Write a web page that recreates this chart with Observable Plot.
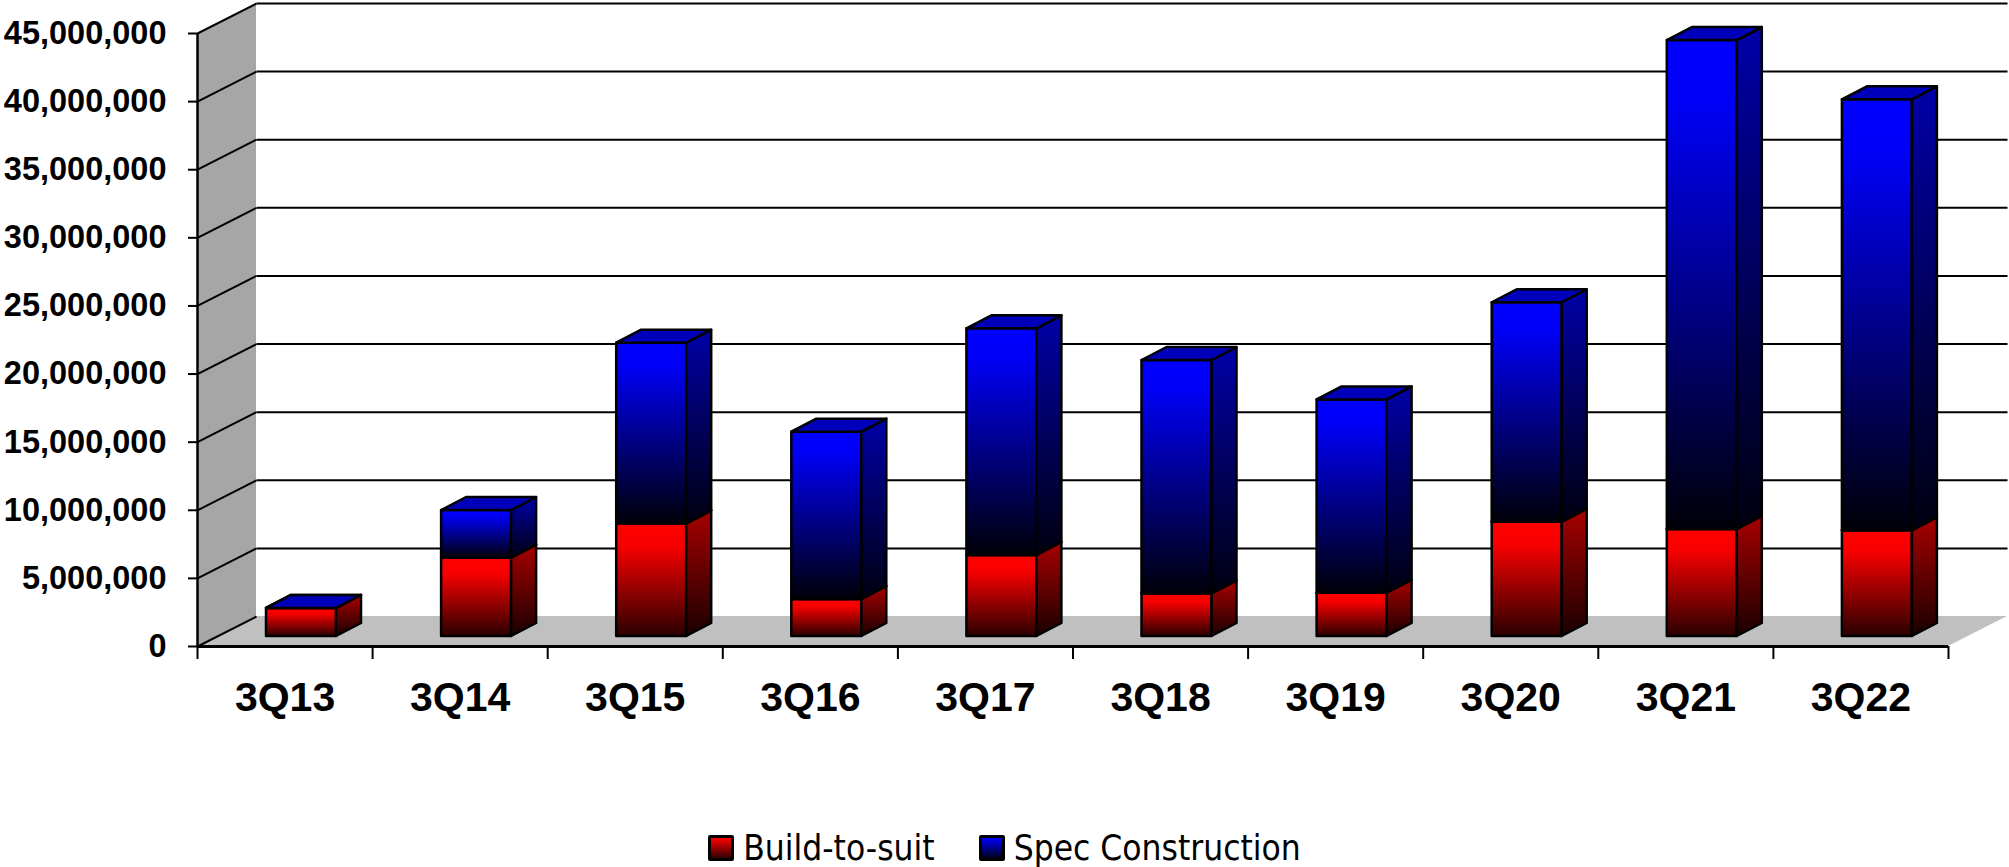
<!DOCTYPE html>
<html>
<head>
<meta charset="utf-8">
<script src="https://cdn.jsdelivr.net/npm/d3@7"></script>
<script src="https://cdn.jsdelivr.net/npm/@observablehq/plot@0.6"></script>
<style>
  html, body { margin: 0; padding: 0; background: #fff; }
  body { width: 2009px; height: 867px; overflow: hidden; font-family: "Liberation Sans", Arial, sans-serif; }
  #legend { display: flex; justify-content: center; align-items: center; margin-top: 48px; height: 40px; }
  #legend .item { display: flex; align-items: center; margin: 0 22px; }
  #legend .sw { width: 20px; height: 20px; border: 3px solid #000; border-radius: 2px; margin-right: 9px; }
  #legend .lt { font-family: "DejaVu Sans Condensed", "DejaVu Sans", sans-serif; font-stretch: condensed; font-size: 35px; color: #000; line-height: 40px; }
</style>
</head>
<body>
<div id="chart"></div>
<div id="legend"></div>
<script>
// ---- data ----
const categories = ["3Q13", "3Q14", "3Q15", "3Q16", "3Q17", "3Q18", "3Q19", "3Q20", "3Q21", "3Q22"];
const buildToSuit = [2060000, 5750000, 8270000, 2720000, 5950000, 3130000, 3180000, 8390000, 7860000, 7770000];
const specConstruction = [0, 3500000, 13260000, 12280000, 16640000, 17130000, 14190000, 16110000, 35890000, 31630000];
const yTicks = [0, 5000000, 10000000, 15000000, 20000000, 25000000, 30000000, 35000000, 40000000, 45000000];
const seriesNames = ["Build-to-suit", "Spec Construction"];

// ---- layout ----
const W = 2009, H = 780, mL = 197, mR = 61, mT = 33, mB = 134;
const n = categories.length;
const yMax = yTicks[yTicks.length - 1];
const kx = n / (W - mL - mR);      // data units per pixel (x)
const ky = yMax / (H - mT - mB);   // data units per pixel (y)
const wallX = 59 * kx, wallY = 30 * ky;     // depth of the back wall
const frontX = 69 * kx, frontY = 10 * ky;   // bar front face offset inside band
const barW = 70 * kx;
const depX = 25 * kx, depY = 13 * ky;       // bar depth

const series = [
  {name: seriesNames[0], values: buildToSuit, front: "url(#redFront)", side: "url(#redSide)", top: "#c00000"},
  {name: seriesNames[1], values: specConstruction, front: "url(#blueFront)", side: "url(#blueSide)", top: "#0000bb"}
];

// stacking
const base = new Array(n).fill(0);
series.forEach(s => {
  s.fronts = []; s.sides = []; s.tops = [];
  s.values.forEach((v, i) => {
    const y0 = base[i], y1 = base[i] + v;
    base[i] = y1;
    const xl = i + frontX, xr = xl + barW;
    s.fronts.push({x1: xl, x2: xr, y1: y0 + frontY, y2: y1 + frontY});
    s.sides.push({k: i, x: xr, lo: y0 + frontY, hi: y1 + frontY});
    s.sides.push({k: i, x: xr + depX, lo: y0 + frontY + depY, hi: y1 + frontY + depY});
    s.tops.push({k: i, y: y1 + frontY, a: xl, b: xr});
    s.tops.push({k: i, y: y1 + frontY + depY, a: xl + depX, b: xr + depX});
  });
});

const leftWall = [{x: 0, lo: 0, hi: yMax}, {x: wallX, lo: wallY, hi: yMax + wallY}];
const floor = [{y: 0, a: 0, b: n}, {y: wallY, a: wallX, b: n + wallX}];

const barMarks = [];
series.forEach(s => {
  barMarks.push(Plot.rect(s.fronts, {x1: "x1", x2: "x2", y1: "y1", y2: "y2", fill: s.front, stroke: "#000", strokeWidth: 2.5, strokeLinejoin: "round"}));
  barMarks.push(Plot.areaY(s.sides, {x: "x", y1: "lo", y2: "hi", z: "k", fill: s.side, stroke: "#000", strokeWidth: 2.5, strokeLinejoin: "round"}));
  barMarks.push(Plot.areaX(s.tops, {y: "y", x1: "a", x2: "b", z: "k", fill: s.top, stroke: "#000", strokeWidth: 2.5, strokeLinejoin: "round"}));
});

const chart = Plot.plot({
  width: W, height: H,
  marginLeft: mL, marginRight: mR, marginTop: mT, marginBottom: mB,
  style: {fontFamily: "'Liberation Sans', Arial, sans-serif", color: "#000", background: "#fff"},
  x: {type: "linear", domain: [0, n]},
  y: {type: "linear", domain: [0, yMax]},
  marks: [
    Plot.areaY(leftWall, {x: "x", y1: "lo", y2: "hi", fill: "#a6a6a6"}),
    Plot.areaX(floor, {y: "y", x1: "a", x2: "b", fill: "#c0c0c0"}),
    Plot.link(yTicks, {x1: 0, y1: d => d, x2: wallX, y2: d => d + wallY, stroke: "#000", strokeWidth: 2}),
    Plot.link(yTicks.filter(d => d > 0), {x1: wallX, y1: d => d + wallY, x2: n + wallX, y2: d => d + wallY, stroke: "#000", strokeWidth: 2}),
    Plot.ruleX([0], {y1: 0, y2: yMax, stroke: "#000", strokeWidth: 2.5}),
    Plot.ruleY([0], {x1: 0, x2: n, stroke: "#000", strokeWidth: 3}),
    Plot.axisY(yTicks, {tickFormat: d3.format(","), tickSize: 9, tickPadding: 22, fontSize: 32.5, fontWeight: "bold", stroke: "#000", strokeWidth: 2, label: null}),
    Plot.axisX(d3.range(0, n + 1), {tickSize: 13, tickFormat: () => "", stroke: "#000", strokeWidth: 2, label: null}),
    Plot.axisX(categories.map((_, i) => i + 0.5), {tickSize: 0, tickPadding: 35, tickFormat: v => categories[Math.floor(v)], fontSize: 41, fontWeight: "bold", label: null}),
    ...barMarks
  ]
});

// gradients
const defs = d3.select(chart).insert("defs", ":first-child");
function grad(id, stops) {
  const g = defs.append("linearGradient").attr("id", id).attr("x1", 0).attr("y1", 0).attr("x2", 0).attr("y2", 1);
  stops.forEach(([o, c]) => g.append("stop").attr("offset", o).attr("stop-color", c));
}
grad("redFront", [[0, "#ff0000"], [0.2, "#f80000"], [1, "#2a0000"]]);
grad("blueFront", [[0, "#0000ff"], [0.12, "#0000f8"], [1, "#000008"]]);
grad("redSide", [[0, "#a80000"], [1, "#1a0000"]]);
grad("blueSide", [[0, "#0000a8"], [1, "#000010"]]);

document.getElementById("chart").appendChild(chart);

// legend
const legend = document.getElementById("legend");
const swatchBg = ["linear-gradient(#ff0000, #300000)", "linear-gradient(#0000ff, #000018)"];
seriesNames.forEach((name, i) => {
  const item = document.createElement("div");
  item.className = "item";
  const sw = document.createElement("span");
  sw.className = "sw";
  sw.style.background = swatchBg[i];
  const lt = document.createElement("span");
  lt.className = "lt";
  lt.textContent = name;
  item.appendChild(sw); item.appendChild(lt);
  legend.appendChild(item);
});
</script>
</body>
</html>
